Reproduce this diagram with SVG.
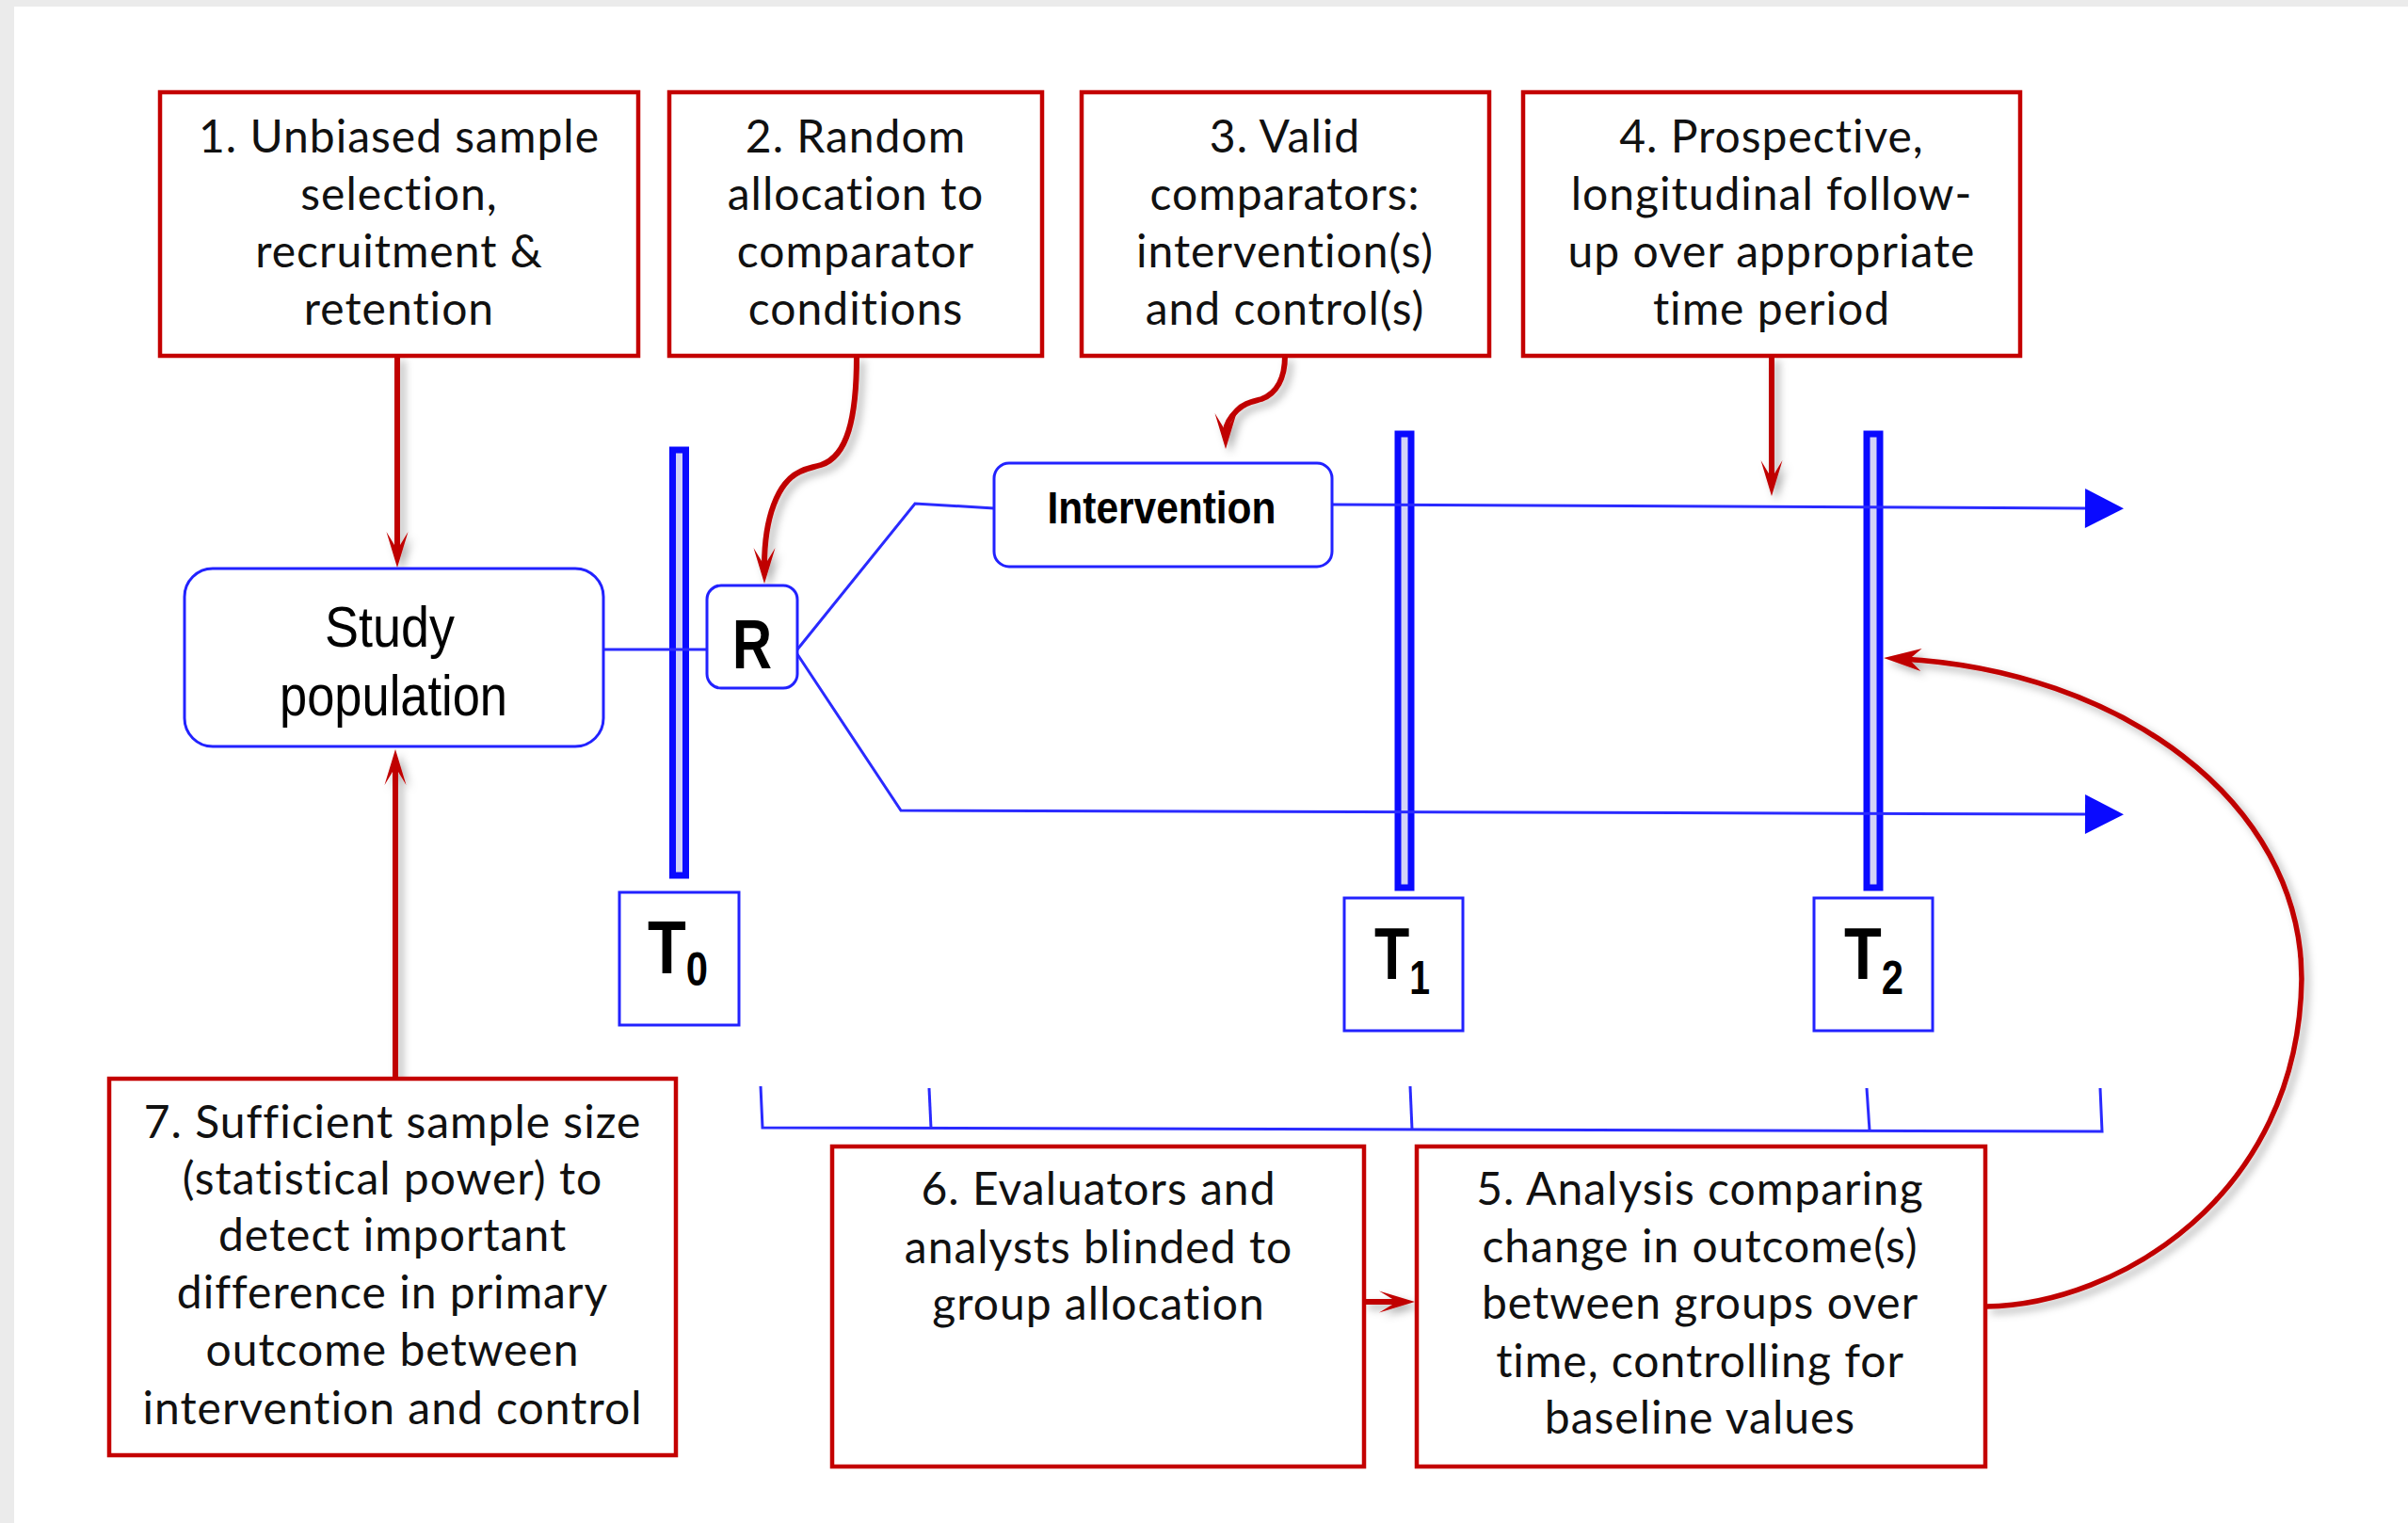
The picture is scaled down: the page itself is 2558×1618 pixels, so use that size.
<svg xmlns="http://www.w3.org/2000/svg" width="2558" height="1618" viewBox="0 0 2558 1618">
  <style>
    .note { fill: #ffffff; stroke: #c40000; stroke-width: 4.5; }
    .note-text { font-family: Lato, "Open Sans", "Liberation Sans", sans-serif; font-size: 48px; letter-spacing: 1px; fill: #111111; text-anchor: middle; }
    .flow { fill: #ffffff; stroke: #2222ff; stroke-width: 3; }
    .flow-text { font-family: "Liberation Sans Narrow", "Liberation Sans", Arial, sans-serif; fill: #000000; }
    .bar { fill: #d2d2f6; stroke: #0a0aff; stroke-width: 7; }
    .tbox { fill: #ffffff; stroke: #2222ff; stroke-width: 3; }
    .bold { font-weight: bold; }
    .blue-line { fill: none; stroke: #2a2aff; stroke-width: 3; }
    .red-line { fill: none; stroke: #c00000; stroke-width: 6; }
    .red-thin { fill: none; stroke: #c00000; stroke-width: 5.5; }
  </style>
  <defs>
    <filter id="shadow" x="-30%" y="-30%" width="160%" height="160%">
      <feDropShadow dx="5" dy="5" stdDeviation="4" flood-color="#000000" flood-opacity="0.3"/>
    </filter>
    <marker id="barb" viewBox="-20 -13 40 26" refX="0" refY="0" markerWidth="40" markerHeight="26" markerUnits="userSpaceOnUse" orient="auto" overflow="visible">
      <path d="M19,0 L-19,-11.5 L0,0 L-19,11.5 Z" fill="#c00000"/>
    </marker>
    <marker id="barb-thin" viewBox="-20 -13 40 26" refX="0" refY="0" markerWidth="40" markerHeight="26" markerUnits="userSpaceOnUse" orient="auto" overflow="visible">
      <path d="M19,0 L-21,-12 L-8,0 L-21,12 Z" fill="#c00000"/>
    </marker>
    <marker id="tri" viewBox="0 0 42 42" refX="0" refY="21" markerWidth="42" markerHeight="42" markerUnits="userSpaceOnUse" orient="auto" overflow="visible">
      <path d="M0,0 L41,21 L0,42 Z" fill="#0a0aff"/>
    </marker>
  </defs>

  <!-- page -->
  <rect x="0" y="0" width="2558" height="1618" fill="#ebebeb"/>
  <rect x="15" y="7" width="2543" height="1611" fill="#ffffff"/>

  <!-- time bars -->
  <g id="bar-t0"><rect class="bar" x="714.5" y="478" width="14" height="452"/></g>
  <g id="bar-t1"><rect class="bar" x="1485" y="461" width="14" height="482"/></g>
  <g id="bar-t2"><rect class="bar" x="1983" y="461" width="14" height="482"/></g>

  <!-- connectors -->
  <g id="connectors">
    <!-- study flow -->
    <line class="blue-line" x1="641" y1="690" x2="751" y2="690"/>
    <polyline class="blue-line" points="847,690 972,535 1056,540"/>
    <polyline class="blue-line" points="847,695 957,861 2215,865" marker-end="url(#tri)"/>
    <line class="blue-line" x1="1415" y1="536" x2="2215" y2="540" marker-end="url(#tri)"/>

    <!-- follow-up period bracket -->
    <g class="blue-line" stroke-width="3.5">
      <polyline points="808,1154 810,1198 2233,1202 2231,1156"/>
      <line x1="987" y1="1156" x2="989" y2="1199"/>
      <line x1="1498" y1="1154" x2="1500" y2="1200"/>
      <line x1="1983" y1="1156" x2="1986" y2="1201"/>
    </g>

    <!-- criteria arrows -->
    <g filter="url(#shadow)">
      <line class="red-line" x1="422" y1="378" x2="422" y2="584" marker-end="url(#barb)"/>
      <line class="red-line" x1="420" y1="1146" x2="420" y2="815" marker-end="url(#barb)"/>
      <path class="red-line" d="M910,378 C910,445 900,485 872,494 C862,497 858,497 850,501 C826,512 812,550 812,601" marker-end="url(#barb)"/>
      <path class="red-line" d="M1365,378 C1365,402 1356,418 1340,424 C1330,427 1322,428 1314,436 C1306,444 1302,452 1302,458" marker-end="url(#barb)"/>
      <line class="red-line" x1="1882" y1="378" x2="1882" y2="508" marker-end="url(#barb)"/>
      <line class="red-line" x1="1449" y1="1383" x2="1484" y2="1383" marker-end="url(#barb)"/>
      <path class="red-thin" d="M2110,1388 C2250,1386 2442,1270 2445,1040 C2445,850 2250,712 2020,700" marker-end="url(#barb-thin)"/>
    </g>
  </g>

  <!-- flow nodes -->
  <g id="study-population">
    <rect class="flow" x="196" y="604" width="445" height="189" rx="30"/>
    <text class="flow-text" x="414" y="687" font-size="62" text-anchor="middle" textLength="138" lengthAdjust="spacingAndGlyphs">Study</text>
    <text class="flow-text" x="418" y="760" font-size="62" text-anchor="middle" textLength="242" lengthAdjust="spacingAndGlyphs">population</text>
  </g>
  <g id="randomisation">
    <rect class="flow" x="751" y="622" width="96" height="109" rx="15"/>
    <text class="flow-text bold" x="799" y="710" font-size="74" text-anchor="middle" textLength="42" lengthAdjust="spacingAndGlyphs">R</text>
  </g>
  <g id="intervention">
    <rect class="flow" x="1056" y="492" width="359" height="110" rx="16"/>
    <text class="flow-text bold" x="1234" y="556" font-size="48" text-anchor="middle" textLength="243" lengthAdjust="spacingAndGlyphs">Intervention</text>
  </g>

  <!-- time points -->
  <g id="t0">
    <rect class="tbox" x="658" y="948" width="127" height="141"/>
    <text class="flow-text bold" x="688" y="1034" font-size="80" textLength="64" lengthAdjust="spacingAndGlyphs">T<tspan font-size="50" dy="13">0</tspan></text>
  </g>
  <g id="t1">
    <rect class="tbox" x="1428" y="954" width="126" height="141"/>
    <text class="flow-text bold" x="1460" y="1040" font-size="78" textLength="59" lengthAdjust="spacingAndGlyphs">T<tspan font-size="50" dy="16">1</tspan></text>
  </g>
  <g id="t2">
    <rect class="tbox" x="1927" y="954" width="126" height="141"/>
    <text class="flow-text bold" x="1959" y="1040" font-size="78" textLength="63" lengthAdjust="spacingAndGlyphs">T<tspan font-size="50" dy="16">2</tspan></text>
  </g>

  <!-- criteria -->
  <g id="criterion-1">
    <rect class="note" x="170" y="98" width="508" height="280"/>
    <text class="note-text" x="424" y="162">1. Unbiased sample</text>
    <text class="note-text" x="424" y="223">selection,</text>
    <text class="note-text" x="424" y="284">recruitment  &amp;</text>
    <text class="note-text" x="424" y="345">retention</text>
  </g>
  <g id="criterion-2">
    <rect class="note" x="711" y="98" width="396" height="280"/>
    <text class="note-text" x="909" y="162">2. Random</text>
    <text class="note-text" x="909" y="223">allocation to</text>
    <text class="note-text" x="909" y="284">comparator</text>
    <text class="note-text" x="909" y="345">conditions</text>
  </g>
  <g id="criterion-3">
    <rect class="note" x="1149" y="98" width="433" height="280"/>
    <text class="note-text" x="1365" y="162">3. Valid</text>
    <text class="note-text" x="1365" y="223">comparators:</text>
    <text class="note-text" x="1365" y="284">intervention(s)</text>
    <text class="note-text" x="1365" y="345">and control(s)</text>
  </g>
  <g id="criterion-4">
    <rect class="note" x="1618" y="98" width="528" height="280"/>
    <text class="note-text" x="1882" y="162">4. Prospective,</text>
    <text class="note-text" x="1882" y="223">longitudinal follow-</text>
    <text class="note-text" x="1882" y="284">up over appropriate</text>
    <text class="note-text" x="1882" y="345">time period</text>
  </g>
  <g id="criterion-5">
    <rect class="note" x="1505" y="1218" width="604" height="340"/>
    <text class="note-text" x="1806" y="1280">5. Analysis comparing</text>
    <text class="note-text" x="1806" y="1341">change in outcome(s)</text>
    <text class="note-text" x="1806" y="1401">between groups over</text>
    <text class="note-text" x="1806" y="1463">time, controlling for</text>
    <text class="note-text" x="1806" y="1523">baseline values</text>
  </g>
  <g id="criterion-6">
    <rect class="note" x="884" y="1218" width="565" height="340"/>
    <text class="note-text" x="1167" y="1280">6. Evaluators and</text>
    <text class="note-text" x="1167" y="1342">analysts blinded to</text>
    <text class="note-text" x="1167" y="1402">group allocation</text>
  </g>
  <g id="criterion-7">
    <rect class="note" x="116" y="1146" width="602" height="400"/>
    <text class="note-text" x="417" y="1209">7. Sufficient sample size</text>
    <text class="note-text" x="417" y="1269">(statistical power) to</text>
    <text class="note-text" x="417" y="1329">detect important</text>
    <text class="note-text" x="417" y="1390">difference in primary</text>
    <text class="note-text" x="417" y="1451">outcome  between</text>
    <text class="note-text" x="417" y="1513">intervention and control</text>
  </g>
</svg>
